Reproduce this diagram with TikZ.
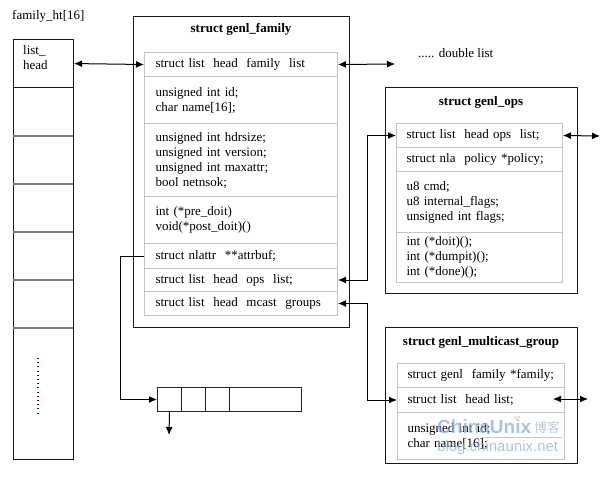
\documentclass[tikz,border=0pt]{standalone}
\usepackage{fontspec}
\setmainfont{Liberation Serif}
\newfontfamily\wmsans{Liberation Sans}
\newfontfamily\cjk{Noto Sans CJK SC}
\usetikzlibrary{arrows.meta}
\definecolor{rowgray}{HTML}{C4C4C4}
\definecolor{sepgray}{HTML}{7A7A7A}
\definecolor{wmblue}{HTML}{8DB0D6}
\definecolor{wmgray}{HTML}{A9B9CC}
\definecolor{wmorange}{HTML}{E8A25A}
\tikzset{
  base/.style={font=\fontsize{13}{15}\selectfont, inner sep=0pt},
  outerbox/.style={draw=black!90, line width=1.1pt, inner sep=0pt, anchor=north west},
  rowbox/.style={base, draw=rowgray, line width=1pt, anchor=north west, align=left, inner xsep=11pt, inner ysep=0pt},
  famrow/.style={rowbox, text width=171pt},
  opsrow/.style={rowbox, text width=146pt, inner xsep=10pt},
  mcrow/.style={rowbox, text width=147pt, inner xsep=10pt},
  title/.style={base, font=\fontsize{13}{15}\selectfont\bfseries},
  conn/.style={line width=1pt, black},
  tip/.style={-{Latex[length=8pt,width=7pt]}},
  dtip/.style={{Latex[length=8pt,width=7pt]}-{Latex[length=8pt,width=7pt]}},
  cell/.style={draw=black!85, line width=1pt, inner sep=0pt, anchor=north west, minimum height=24pt},
}
\begin{document}
\begin{tikzpicture}[x=1pt, y=-1pt]
\useasboundingbox (0,0) rectangle (608,477);

% ---------- left array ----------
\node[base, anchor=west] (fht) at (12,16) {family\_ht[16]};
\node[outerbox, minimum width=60pt, minimum height=420pt] (arr) at (13,39) {};
\node[outerbox, minimum width=60pt, minimum height=48pt, base, anchor=north west] (lh) at (13,39) {};
\node[base, anchor=north west, align=left] (lhtext) at (23,45) {list\_\\head};
\foreach \yy/\nm in {136/s1,184/s2,232/s3,280/s4,328/s5}{
  \coordinate (\nm a) at (13,\yy);
  \coordinate (\nm b) at (73,\yy);
  \draw[sepgray, line width=1.6pt] (\nm a) -- (\nm b);
}
\coordinate (dotsa) at (38,358);
\coordinate (dotsb) at (38,413);
\draw[color=black!60!red, line width=1.1pt, dash pattern=on 0.9pt off 3.3pt] (dotsa) -- (dotsb);

% ---------- struct genl_family ----------
\node[outerbox, minimum width=216pt, minimum height=311pt] (fam) at (133,16) {};
\node[title] (famtitle) at (241,29) {struct genl\_family};
\node[famrow, minimum height=24pt] (flist) at (144,52) {struct list\ \ head\ \ family\ \ list};
\node[famrow, minimum height=47pt] (fid) at (144,76) {unsigned int id;\\char name[16];};
\node[famrow, minimum height=73pt] (fhdr) at (144,123) {unsigned int hdrsize;\\unsigned int version;\\unsigned int maxattr;\\bool netnsok;};
\node[famrow, minimum height=47pt] (fpre) at (144,196) {int (*pre\_doit)\\void(*post\_doit)()};
\node[famrow, minimum height=25pt] (fattr) at (144,243) {struct nlattr\ \ **attrbuf;};
\node[famrow, minimum height=23pt] (fops) at (144,268) {struct list\ \ head\ \ ops\ \ list;};
\node[famrow, minimum height=24pt] (fmc) at (144,291) {struct list\ \ head\ \ mcast\ \ groups};

\node[base, anchor=west] (dbl) at (418,53) {..... double list};
\coordinate (dblend) at (395,64);

% ---------- struct genl_ops ----------
\node[outerbox, minimum width=192pt, minimum height=206pt] (ops) at (385,87) {};
\node[title] (opstitle) at (481,102) {struct genl\_ops};
\node[opsrow, minimum height=24pt] (olist) at (396,123) {struct list\ \ head ops\ \ list;};
\node[opsrow, minimum height=24pt] (opol) at (396,147) {struct nla\ \ policy *policy;};
\node[opsrow, minimum height=61pt] (ocmd) at (396,171) {u8 cmd;\\u8 internal\_flags;\\unsigned int flags;};
\node[opsrow, minimum height=50pt] (odoit) at (396,232) {int (*doit)();\\int (*dumpit)();\\int (*done)();};
\coordinate (opsend) at (600,136);

% ---------- struct genl_multicast_group ----------
\node[outerbox, minimum width=192pt, minimum height=136pt] (mc) at (385,327) {};
\node[title] (mctitle) at (481,342) {struct genl\_multicast\_group};
\node[mcrow, minimum height=24pt] (mfam) at (397,363) {struct genl\ \ family *family;};
\node[mcrow, minimum height=25pt] (mlist) at (397,387) {struct list\ \ head list;};
\node[mcrow, minimum height=47pt] (mid) at (397,412) {unsigned int id;\\char name[16];};
\coordinate (mcstart) at (553,399);
\coordinate (mcend) at (588,399);

% ---------- small attr array ----------
\node[cell, minimum width=24pt] (c1) at (157,387) {};
\node[cell, minimum width=24pt] (c2) at (181,387) {};
\node[cell, minimum width=24pt] (c3) at (205,387) {};
\node[cell, minimum width=72pt] (c4) at (229,387) {};
\coordinate (c1down) at (169,435);

% ---------- connectors ----------
\draw[conn, dtip] (lh.east) -- (flist.west);
\draw[conn, dtip] (flist.east) -- (dblend);
\draw[conn, dtip] (fops.east) -- ++(29,0) |- (olist.west);
\draw[conn, dtip] (fmc.east) -- ++(29,0) |- (mlist.west);
\draw[conn, dtip] (olist.east) -- (opsend);
\draw[conn, dtip] (mcstart) -- (mcend);
\draw[conn, tip] (fattr.west) -- ++(-24,0) |- (c1.west);
\draw[conn, tip] (c1.south) -- (c1down);

% ---------- watermark ----------
\begin{scope}[opacity=0.75]
\node[inner sep=0pt, anchor=west, font=\wmsans\fontsize{19}{19}\selectfont\bfseries, text=wmblue] (wm1) at (437,427) {ChinaUnix};
\node[inner sep=0pt, anchor=west, font=\wmsans\fontsize{5}{5}\selectfont, text=wmorange] (wmnet) at (512,418) {.net};
\node[inner sep=0pt, anchor=west, font=\cjk\fontsize{13}{13}\selectfont, text=wmgray] (wm2) at (534,427) {博客};
\coordinate (wmla) at (482,437);
\coordinate (wmlb) at (562,437);
\draw[wmgray, line width=0.5pt] (wmla) -- (wmlb);
\node[inner sep=0pt, anchor=west, font=\wmsans\fontsize{15}{15}\selectfont, text=wmblue] (wm3) at (437,448) {blog.chinaunix.net};
\end{scope}
\end{tikzpicture}
\end{document}
